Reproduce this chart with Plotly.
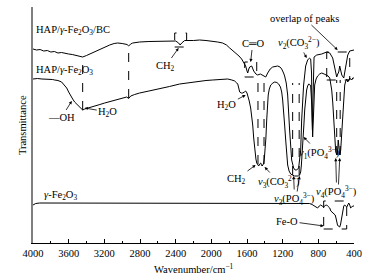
import plotly.graph_objects as go

# ---------------- data (wavenumber cm^-1, relative transmittance) ----------------
bc_wn = [4000, 3960, 3920, 3880, 3840, 3800, 3760, 3720, 3680, 3640, 3600, 3560, 3520, 3480, 3443,
         3400, 3364, 3300, 3252, 3200, 3140, 3090, 3050, 3000, 2972, 2945, 2927, 2905, 2882, 2804,
         2700, 2580, 2480, 2400, 2367, 2350, 2332, 2299, 2200, 2131, 2060, 1996, 1930, 1873, 1830,
         1794, 1750, 1716, 1690, 1660, 1640, 1615, 1600, 1592, 1580, 1570, 1547, 1535, 1525, 1500,
         1480, 1450, 1424, 1405, 1390, 1368, 1340, 1312, 1280, 1256, 1230, 1211, 1190, 1178, 1160,
         1144, 1122, 1099, 1077, 1060, 1043, 1021, 998, 987, 965, 942, 920, 898, 886, 876,
         871, 866, 861, 855, 848, 818, 762, 706, 672, 639, 616, 594, 582, 571, 560,
         548, 537, 515, 493, 470, 448, 414, 400]
bc_t = [194, 193, 193.5, 192, 192.5, 191, 191.5, 190, 190.5, 189.5, 189, 188.5, 187.5, 187, 186,
        187.5, 189, 192, 194, 196, 198, 199.5, 200, 199.5, 199, 198.5, 197, 199, 200, 201,
        201.5, 202, 202, 202, 200, 198, 200, 202.5, 202.5, 203, 202.5, 202, 201, 200, 198,
        195, 192, 189, 187, 184, 181, 177, 172, 170, 174, 176, 177, 174, 172, 169,
        168, 169, 168, 167, 166, 170, 174, 176, 176.5, 177, 176, 174, 170, 167, 160,
        148, 113, 83, 75, 73, 73, 75, 93, 123, 158, 177, 183, 185, 184, 170,
        130, 113, 140, 178, 186, 188, 189, 191, 190, 185, 175, 166, 169, 171, 177,
        172, 168, 165, 178, 188, 192, 193, 193]

hap_wn = [4000, 3950, 3900, 3869, 3820, 3780, 3757, 3720, 3679, 3650, 3622, 3600, 3577, 3555, 3533,
          3500, 3476, 3443, 3420, 3387, 3350, 3308, 3250, 3196, 3140, 3083, 3040, 3005, 2970, 2949,
          2927, 2904, 2860, 2804, 2700, 2580, 2470, 2355, 2250, 2131, 2060, 1985, 1900, 1816, 1770,
          1738, 1715, 1704, 1690, 1682, 1665, 1648, 1630, 1615, 1600, 1592, 1575, 1559, 1545, 1536,
          1525, 1514, 1500, 1491, 1480, 1469, 1458, 1446, 1438, 1430, 1422, 1413, 1405, 1396, 1388,
          1379, 1370, 1362, 1350, 1334, 1310, 1289, 1265, 1245, 1225, 1211, 1200, 1189, 1178, 1166,
          1155, 1144, 1128, 1110, 1090, 1066, 1040, 1021, 1010, 998, 990, 981, 970, 962, 953,
          942, 931, 920, 908, 896, 886, 878, 871, 864, 858, 855, 848, 841, 825, 808,
          785, 762, 735, 706, 690, 672, 660, 650, 638, 627, 616, 605, 596, 588, 582,
          577, 570, 560, 554, 549, 538, 526, 515, 504, 492, 481, 470, 459, 448, 436,
          425, 414, 400]
hap_t = [164, 164.5, 164, 164, 163.5, 163.5, 163, 162.5, 161, 158, 155, 151, 147, 144, 141,
         138, 136, 133, 134, 135, 136, 137, 138.5, 140, 141.5, 143, 144, 145, 146, 146,
         144.5, 147, 148.5, 150, 152, 154, 156.5, 159, 160.5, 162, 162.5, 163, 163.5, 164, 163,
         162, 160, 159, 154, 151, 150, 150, 151, 152, 150, 148, 142, 135, 127, 118,
         105, 93, 84, 80, 78, 77, 79, 80, 78, 77, 78, 80, 85, 93, 105,
         123, 138, 148, 154, 158, 160, 161, 160.5, 159, 156, 151, 143, 133, 118, 103,
         90, 78, 72, 69, 68, 67, 67, 67, 68, 71, 78, 88, 105, 118, 133,
         145, 153, 157, 159, 158.5, 157, 145, 133, 106, 125, 133, 148, 158, 164, 167,
         169, 170, 169, 168, 167, 165, 160, 153, 140, 123, 105, 91, 89, 88, 95,
         103, 97, 88, 90, 93, 110, 128, 145, 158, 162, 164, 161, 163, 165, 164,
         163, 165, 165]

fe_wn = [4000, 3985, 3970, 3925, 3800, 3400, 3000, 2600, 2200, 1800, 1400, 1100, 950, 898, 870,
         841, 825, 808, 790, 774, 757, 740, 723, 706, 690, 672, 660, 650, 638, 627,
         611, 602, 594, 585, 577, 568, 560, 550, 543, 535, 526, 515, 504, 492, 481,
         470, 459, 448, 437, 425, 414, 400]
fe_t = [38, 39, 39.5, 40, 40, 40, 40, 40, 40, 40, 40, 40, 39.8, 39.5, 38.5,
        37, 36, 35, 37, 38, 37, 36, 37.5, 38, 36.5, 35, 32, 31, 30, 29,
        28, 25, 21, 18, 17, 16.5, 16, 19, 23, 29, 35, 37, 38, 37, 36,
        38, 40, 38, 35, 36, 37, 37]

x_ticks = [4000, 3600, 3200, 2800, 2400, 2000, 1600, 1200, 800, 400]

FONT = "Liberation Serif, Times New Roman, serif"
FS = 10.5

fig = go.Figure()
for wn, t in [(bc_wn, bc_t), (hap_wn, hap_t), (fe_wn, fe_t)]:
    fig.add_trace(go.Scatter(x=wn, y=t, mode="lines",
                             line=dict(color="black", width=1), showlegend=False,
                             hoverinfo="skip"))

# ---------------- dashed guide lines & boxes ----------------
dash = dict(color="black", width=1, dash="dash")
def vline(x, y0, y1):
    fig.add_shape(type="line", x0=x, x1=x, y0=y0, y1=y1, line=dash)
def box(x0, x1, y0, y1):
    fig.add_shape(type="rect", x0=x0, x1=x1, y0=y0, y1=y1, line=dash)

vline(3443, 133, 186)
vline(2927, 145, 197)
box(2411, 2277, 196, 210)
box(1626, 1491, 166, 181)
vline(1477, 79, 167)
vline(1409, 79, 167)
vline(1088, 68, 160)
vline(1015, 68, 160)
box(706, 448, 163, 191)
vline(594, 88, 163)
vline(555, 88, 163)
box(740, 482, 14, 42)

# ---------------- text labels ----------------
def label(text, x, y, xanchor="center"):
    fig.add_annotation(x=x, y=y, text=text, showarrow=False, xanchor=xanchor,
                       yanchor="middle", font=dict(family=FONT, size=FS, color="black"))

def arrow_label(text, tx, ty, lx, ly):
    fig.add_annotation(x=tx, y=ty, ax=lx, ay=ly, axref="x", ayref="y", text=text,
                       showarrow=True, arrowhead=2, arrowsize=0.8, arrowwidth=0.8,
                       arrowcolor="black", font=dict(family=FONT, size=FS, color="black"))

def arrow_only(tx, ty, sx, sy):
    fig.add_annotation(x=tx, y=ty, ax=sx, ay=sy, axref="x", ayref="y", text="",
                       showarrow=True, arrowhead=2, arrowsize=0.8, arrowwidth=0.8,
                       arrowcolor="black")

label("HAP/<i>γ</i>-Fe<sub>2</sub>O<sub>3</sub>/BC", 3985, 213, "left")
label("HAP/<i>γ</i>-Fe<sub>2</sub>O<sub>3</sub>", 3985, 173, "left")
label("<i>γ</i>-Fe<sub>2</sub>O<sub>3</sub>", 3902, 48, "left")

arrow_label("—OH", 3565, 142, 3678, 126)
arrow_label("H<sub>2</sub>O", 3420, 135, 3162, 131)
arrow_label("CH<sub>2</sub>", 2367, 195, 2512, 177)
arrow_label("C═O", 1559, 181, 1536, 200)
arrow_label("H<sub>2</sub>O", 1615, 148, 1826, 138)
arrow_label("<i>ν</i><sub>2</sub>(CO<sub>3</sub><sup>2−</sup>)", 931, 185, 1020, 200)
arrow_label("overlap of peaks", 583, 193, 960, 225)
arrow_label("CH<sub>2</sub>", 1503, 78, 1716, 64)
arrow_label("<i>ν</i><sub>3</sub>(CO<sub>3</sub><sup>2−</sup>)", 1402, 76, 1245, 61)
arrow_label("<i>ν</i><sub>3</sub>(PO<sub>4</sub><sup>3−</sup>)", 1077, 67, 1066, 44)
arrow_only(1010, 67, 1040, 50)
arrow_label("<i>ν</i><sub>1</sub>(PO<sub>4</sub><sup>3−</sup>)", 965, 106, 790, 90)
arrow_label("<i>ν</i><sub>4</sub>(PO<sub>4</sub><sup>3−</sup>)", 605, 85, 594, 51)
arrow_only(560, 85, 575, 57)
arrow_label("Fe-O", 740, 17, 1151, 22)

# axis titles as paper annotations (fixed margins)
fig.add_annotation(x=0.5, y=-0.106, xref="paper", yref="paper", text="Wavenumber/cm<sup>−1</sup>",
                   showarrow=False, xanchor="center", yanchor="middle", borderpad=0,
                   font=dict(family=FONT, size=FS, color="black"))
fig.add_annotation(x=-0.034, y=0.5, xref="paper", yref="paper", text="Transmittance",
                   showarrow=False, xanchor="center", yanchor="middle", textangle=-90,
                   font=dict(family=FONT, size=FS, color="black"))

fig.update_layout(
    width=385, height=276,
    margin=dict(l=33, r=31, t=7, b=33, autoexpand=False),
    paper_bgcolor="white", plot_bgcolor="white",
    font=dict(family=FONT, size=FS, color="black"),
    showlegend=False,
)
fig.update_xaxes(
    range=[4000, 400], tickvals=x_ticks, ticks="inside", ticklen=4, tickcolor="black",
    tickfont=dict(family=FONT, size=FS), automargin=False,
    minor=dict(ticks="inside", ticklen=2, tickcolor="black", dtick=200, tick0=400),
    showline=True, linecolor="black", linewidth=1, showgrid=False, zeroline=False,
)
fig.update_yaxes(
    range=[0, 236], showline=True, linecolor="#808080", linewidth=2, automargin=False,
    showticklabels=False, ticks="", showgrid=False, zeroline=False,
)

fig.write_html("out.html", config={"displayModeBar": False},
               post_script="document.body.style.margin='0';")
